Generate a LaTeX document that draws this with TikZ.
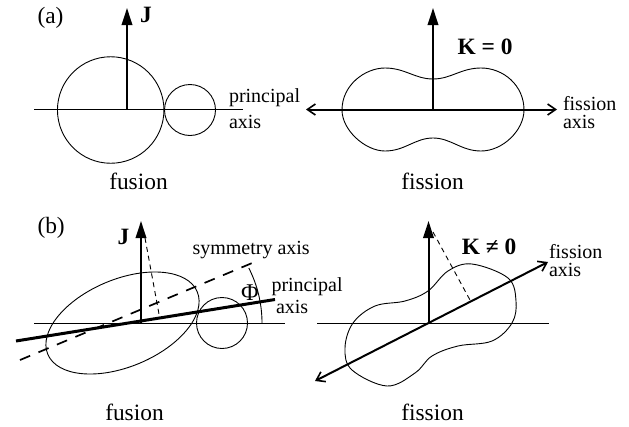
\documentclass[tikz,border=0pt]{standalone}
\usepackage{fontspec}
\setmainfont{Liberation Serif}
\usetikzlibrary{arrows.meta}
\tikzset{
  thinline/.style={line width=0.9pt,black},
  shapeline/.style={line width=0.9pt,black},
  spin/.style={line width=2pt,-{Triangle[width=10.5pt,length=17pt]}},
  fisaxis/.style={line width=2pt,{Straight Barb[length=8pt,width=11pt,line width=1.6pt]}-{Straight Barb[length=8pt,width=11pt,line width=1.6pt]}},
  blob/.style={circle,draw,line width=0.9pt,inner sep=0pt,outer sep=0pt},
  txt/.style={inner sep=0pt,outer sep=0pt,font=\fontsize{20}{20}\selectfont,anchor=base west},
  twoline/.style={inner sep=0pt,outer sep=0pt,align=left,anchor=base west,font=\fontsize{20}{18}\selectfont},
  big/.style={inner sep=0pt,outer sep=0pt,font=\fontsize{23.4}{23.4}\selectfont,anchor=base},
  bigb/.style={big,font=\fontsize{23.4}{23.4}\selectfont\bfseries}
}
\begin{document}
\begin{tikzpicture}[x=1pt,y=-1pt]
\useasboundingbox (0,0) rectangle (629,426);
% ---- coordinates
\coordinate (aL) at (34,109.5); \coordinate (aR) at (243,109.5);
\coordinate (aO) at (127,109.5); \coordinate (aT) at (127,8);
\coordinate (fL) at (306,109.5); \coordinate (fR) at (557,109.5);
\coordinate (fO) at (433,109.5); \coordinate (fT) at (433,8);
\coordinate (bL) at (34,323); \coordinate (bR) at (285,323);
\coordinate (bO) at (141,323); \coordinate (bT) at (141,221);
\coordinate (pA) at (16,341); \coordinate (pB) at (275,299.5);
\coordinate (sA) at (20,360); \coordinate (sB) at (257,261);
\coordinate (dA) at (145,238); \coordinate (dB) at (159,314);
\coordinate (arcA) at (262,323);
\coordinate (gL) at (317,323); \coordinate (gR) at (549,323);
\coordinate (gO) at (428.5,323); \coordinate (gT) at (428.5,221);
\coordinate (gA) at (315,381); \coordinate (gB) at (548,262);
\coordinate (eA) at (433,232); \coordinate (eB) at (470,300);
% ---- panel a, fusion
\node[blob,minimum size=106.5pt] (big1) at (110.7,110) {};
\node[blob,minimum size=51pt] (small1) at (190,110) {};
\draw[thinline] (aL) -- (aR);
\draw[spin] (aO) -- (aT);
% ---- panel a, fission
\draw[shapeline] (342,110) .. controls (342,85) and (365,68) .. (385,68)
  .. controls (405,68) and (415,79) .. (433,79)
  .. controls (451,79) and (461,68) .. (481,68)
  .. controls (503,68) and (524,85) .. (524,110)
  .. controls (524,130) and (503,151) .. (481,151)
  .. controls (461,151) and (451,138) .. (433,138)
  .. controls (415,138) and (405,151) .. (385,151)
  .. controls (365,151) and (342,130) .. (342,110) -- cycle;
\draw[fisaxis] (fL) -- (fR);
\draw[spin] (fO) -- (fT);
% ---- panel b, fusion
\draw[shapeline,rotate around={22.7:(122.5,323)}] (122.5,323) ellipse [x radius=81,y radius=43.7];
\node[blob,minimum size=51pt] (small2) at (222,323) {};
\draw[thinline] (bL) -- (bR);
\draw[line width=1.7pt,dash pattern=on 11pt off 9pt] (sA) -- (sB);
\draw[line width=0.9pt,dash pattern=on 5pt off 4pt] (dA) -- (dB);
\draw[line width=3pt] (pA) -- (pB);
\draw[spin] (bO) -- (bT);
\draw[line width=0.9pt] (arcA) arc[start angle=0,end angle=-27,radius=121];
% ---- panel b, fission
\draw[shapeline] plot[smooth cycle,tension=0.6] coordinates {
 (345,348) (352,370) (387,386) (415,373) (432,356) (458,346) (492,341)
 (512,323) (516,301) (508,278) (472,264) (448,271) (428,291) (405,301)
 (375,306) (353,323)};
\draw[thinline] (gL) -- (gR);
\draw[fisaxis] (gA) -- (gB);
\draw[spin] (gO) -- (gT);
\draw[line width=0.9pt,dash pattern=on 5pt off 4pt] (eA) -- (eB);
% ---- labels
\node[big,anchor=base west] (la) at (37.5,23) {(a)};
\node[bigb,anchor=base west] (lJ) at (140,22) {J};
\node[txt] (p1) at (229,102) {principal};
\node[txt] (a1) at (229,128) {axis};
\node[big] (f1) at (138.5,189) {fusion};
\node[bigb] (k0) at (485,54) {K = 0};
\node[twoline] (p2) at (563,128) {fission\\axis};
\node[big] (f2) at (432.5,189) {fission};
\node[big,anchor=base west] (lb) at (37.5,233) {(b)};
\node[bigb,anchor=base west] (lJ2) at (117.5,244) {J};
\node[txt] (sy) at (192.5,254) {symmetry axis};
\node[big] (phi) at (250,300) {\fontsize{24}{24}\selectfont Φ};
\node[txt] (p3) at (271.5,291) {principal};
\node[txt] (a3) at (276,313) {axis};
\node[big] (f3) at (134.5,420) {fusion};
\node[bigb] (k1) at (489,254) {K ≠ 0};
\node[twoline] (p4) at (549,276) {fission\\axis};
\node[big] (f4) at (432.5,420) {fission};
\end{tikzpicture}
\end{document}
